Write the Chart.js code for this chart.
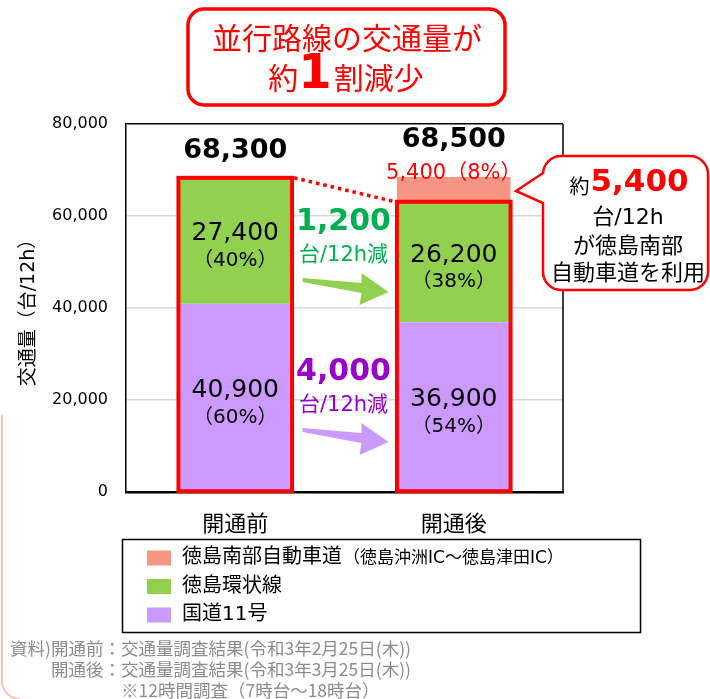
<!DOCTYPE html>
<html lang="ja">
<head>
    <meta charset="UTF-8">
    <title>並行路線の交通量</title>
    <script src="https://cdn.jsdelivr.net/npm/chart.js"></script>
    <style>
        html, body { margin: 0; padding: 0; background: #fff; }
        #grafico { display: block; }
    </style>
</head>
<body>
    <canvas id="grafico" width="710" height="699"></canvas>

    <script>
        // dados
        const categorias = ['開通前', '開通後'];
        const kokudo11 = [40900, 36900];
        const kanjou = [27400, 26200];
        const nanbu = [null, 5400];
        const pctKokudo = ['60%', '54%'];
        const pctKanjou = ['40%', '38%'];
        const pctNanbu = [null, '8%'];
        const ticksY = [0, 20000, 40000, 60000, 80000];
        const nomes = ['国道11号', '徳島環状線', '徳島南部自動車道'];
        const notasLegenda = ['', '', '（徳島沖洲IC～徳島津田IC）'];
        const cores = ['#cc99ff', '#92d050', '#f79484'];

        const JP = '"Noto Sans CJK JP", "Noto Sans", sans-serif';
        const NUM = '"DejaVu Sans", Verdana, sans-serif';
        const MIX = '"DejaVu Sans", "Noto Sans CJK JP", sans-serif';
        const VERMELHO = '#ff0000';

        const fmt = v => v.toLocaleString('en-US');

        function retArredondado(ctx, x, y, w, h, r) {
            ctx.beginPath();
            ctx.moveTo(x + r, y);
            ctx.arcTo(x + w, y, x + w, y + h, r);
            ctx.arcTo(x + w, y + h, x, y + h, r);
            ctx.arcTo(x, y + h, x, y, r);
            ctx.arcTo(x, y, x + w, y, r);
            ctx.closePath();
        }

        function seta(ctx, cx, y0, cor) {
            const pts = [[-43, 5], [16, 10], [16, 0], [43, 19], [14, 32], [16, 20], [-43, 9]];
            ctx.beginPath();
            pts.forEach((p, i) => i ? ctx.lineTo(cx + p[0], y0 + p[1]) : ctx.moveTo(cx + p[0], y0 + p[1]));
            ctx.closePath();
            ctx.fillStyle = cor;
            ctx.fill();
        }

        // escreve partes com fontes diferentes, centradas em cx
        function textoMisto(ctx, partes, cx, y) {
            let largura = 0;
            partes.forEach(p => { ctx.font = p.font; largura += ctx.measureText(p.t).width + (p.gap || 0); });
            let x = cx - largura / 2;
            ctx.textAlign = 'left';
            partes.forEach(p => {
                ctx.font = p.font;
                ctx.fillStyle = p.cor;
                ctx.fillText(p.t, x, y + (p.dy || 0));
                x += ctx.measureText(p.t).width + (p.gap || 0);
            });
        }

        const desenhos = {
            id: 'desenhos',
            beforeDatasetsDraw(chart) {
                const { ctx, chartArea: a } = chart;
                ctx.save();
                ctx.strokeStyle = '#000';
                ctx.lineWidth = 1.5;
                ctx.beginPath();
                ctx.moveTo(a.right, a.top);
                ctx.lineTo(a.right, a.bottom);
                ctx.stroke();
                ctx.restore();
            },
            afterDatasetsDraw(chart) {
                const { ctx } = chart;
                const m0 = chart.getDatasetMeta(0), m1 = chart.getDatasetMeta(1), m2 = chart.getDatasetMeta(2);
                ctx.save();
                const cantos = [];
                categorias.forEach((c, i) => {
                    const b0 = m0.data[i], b1 = m1.data[i];
                    const l = b0.x - b0.width / 2, r = b0.x + b0.width / 2;
                    ctx.strokeStyle = VERMELHO;
                    ctx.lineWidth = 4;
                    ctx.strokeRect(l, b1.y, r - l, b0.base - b1.y);
                    cantos.push({ l, r, top: b1.y });

                    // rótulos dentro das barras
                    ctx.fillStyle = '#000';
                    ctx.textAlign = 'center';
                    ctx.textBaseline = 'middle';
                    [[b0, kokudo11[i], pctKokudo[i]], [b1, kanjou[i], pctKanjou[i]]].forEach(([b, v, p]) => {
                        const cy = (b.y + b.base) / 2;
                        ctx.font = '25px ' + NUM;
                        ctx.fillText(fmt(v), b.x, cy - 7);
                        ctx.font = '20px ' + MIX;
                        ctx.fillText('（' + p + '）', b.x, cy + 20);
                    });

                    // total
                    let topo = b1.y;
                    let total = kokudo11[i] + kanjou[i];
                    if (nanbu[i]) {
                        const b2 = m2.data[i];
                        topo = b2.y;
                        total += nanbu[i];
                        ctx.fillStyle = VERMELHO;
                        ctx.font = '21px ' + MIX;
                        ctx.fillText(fmt(nanbu[i]) + '（' + pctNanbu[i] + '）', b2.x, b2.y - 3);
                    }
                    ctx.fillStyle = '#000';
                    ctx.font = 'bold 27px ' + NUM;
                    ctx.fillText(fmt(total), b0.x, topo - (nanbu[i] ? 37 : 27));
                });

                // linha pontilhada
                ctx.strokeStyle = VERMELHO;
                ctx.lineWidth = 3.5;
                ctx.setLineDash([3.5, 4]);
                ctx.beginPath();
                ctx.moveTo(cantos[0].r + 2, cantos[0].top);
                ctx.lineTo(cantos[1].l - 2, cantos[1].top);
                ctx.stroke();
                ctx.setLineDash([]);

                // reduções
                const cx = (cantos[0].r + cantos[1].l) / 2;
                const a = chart.chartArea;
                const reducoes = [
                    [kanjou[0] - kanjou[1], '#00b050', cores[1], a.top + 98],
                    [kokudo11[0] - kokudo11[1], '#9900cc', cores[0], a.top + 248]
                ];
                reducoes.forEach(([v, corTxt, corSeta, y]) => {
                    ctx.textAlign = 'center';
                    ctx.fillStyle = corTxt;
                    ctx.font = 'bold 30px ' + NUM;
                    ctx.fillText(fmt(v), cx - 1, y);
                    ctx.font = '21px ' + MIX;
                    ctx.fillText('台/12h減', cx - 1, y + 34);
                    seta(ctx, cx + 1, y + 51, corSeta);
                });
                ctx.restore();
            },
            afterDraw(chart) {
                const { ctx } = chart;
                ctx.save();

                // caixa do título
                retArredondado(ctx, 188, 9, 317, 96, 16);
                ctx.fillStyle = '#fff';
                ctx.fill();
                ctx.strokeStyle = VERMELHO;
                ctx.lineWidth = 3.5;
                ctx.stroke();
                ctx.fillStyle = VERMELHO;
                ctx.textAlign = 'center';
                ctx.textBaseline = 'middle';
                ctx.font = '30px ' + JP;
                ctx.fillText('並行路線の交通量が', 347, 38);
                textoMisto(ctx, [
                    { t: '約', font: '30px ' + JP, cor: VERMELHO, dy: 2 },
                    { t: '1', font: 'bold 48px ' + NUM, cor: VERMELHO, gap: 2 },
                    { t: '割減少', font: '30px ' + JP, cor: VERMELHO, dy: 2 }
                ], 346, 76);

                // balão
                ctx.beginPath();
                const L = 543, T = 156, R = 708, B = 290, r = 18;
                ctx.moveTo(L + r, T);
                ctx.arcTo(R, T, R, B, r);
                ctx.arcTo(R, B, L, B, r);
                ctx.arcTo(L, B, L, T, r);
                ctx.lineTo(L, 203);
                ctx.lineTo(516, 191);
                ctx.lineTo(L, 173);
                ctx.arcTo(L, T, R, T, r);
                ctx.closePath();
                ctx.fillStyle = '#fff';
                ctx.fill();
                ctx.strokeStyle = VERMELHO;
                ctx.lineWidth = 2.5;
                ctx.stroke();
                textoMisto(ctx, [
                    { t: '約', font: '20px ' + JP, cor: '#000', dy: 3, gap: 1 },
                    { t: fmt(nanbu[1]), font: 'bold 31px ' + NUM, cor: VERMELHO }
                ], 629, 183);
                ctx.textAlign = 'center';
                ctx.fillStyle = '#000';
                ctx.font = '22px ' + MIX;
                ctx.fillText('台/12h', 628, 218);
                ctx.font = '22px ' + JP;
                ctx.fillText('が徳島南部', 628, 245);
                ctx.fillText('自動車道を利用', 628, 272);

                // legenda
                ctx.strokeStyle = '#000';
                ctx.lineWidth = 1.5;
                ctx.strokeRect(122.5, 539.5, 518, 93);
                ctx.textAlign = 'left';
                [2, 1, 0].forEach((d, k) => {
                    const y = 558 + k * 28.5;
                    ctx.fillStyle = cores[d];
                    ctx.fillRect(147, y - 7.5, 24, 15);
                    ctx.fillStyle = '#000';
                    ctx.font = '20px ' + MIX;
                    ctx.fillText(nomes[d], 182, y);
                    if (notasLegenda[d]) {
                        const w = ctx.measureText(nomes[d]).width;
                        ctx.font = '17px ' + MIX;
                        ctx.fillText(notasLegenda[d], 182 + w + 1, y + 1);
                    }
                });

                // notas
                ctx.fillStyle = '#8c8c8c';
                ctx.font = '17.5px ' + JP;
                const notas = [
                    ['資料)開通前：', '交通量調査結果(令和3年2月25日(木))', 648],
                    ['開通後：', '交通量調査結果(令和3年3月25日(木))', 669],
                    ['', '※12時間調査（7時台～18時台）', 690]
                ];
                notas.forEach(([pre, txt, y]) => {
                    ctx.textAlign = 'right';
                    ctx.fillText(pre, 121, y);
                    ctx.textAlign = 'left';
                    ctx.fillText(txt, 121, y);
                });

                // borda rosa à esquerda
                ctx.strokeStyle = '#f9c4bc';
                ctx.lineWidth = 2;
                ctx.beginPath();
                ctx.moveTo(2, 415);
                ctx.lineTo(2, 680);
                ctx.arcTo(2, 699, 20, 699, 18);
                ctx.stroke();
                ctx.restore();
            }
        };

        new Chart(document.getElementById('grafico'), {
            type: 'bar',
            data: {
                labels: categorias,
                datasets: [
                    { label: nomes[0], data: kokudo11, backgroundColor: cores[0] },
                    { label: nomes[1], data: kanjou, backgroundColor: cores[1] },
                    { label: nomes[2], data: nanbu, backgroundColor: cores[2] }
                ]
            },
            options: {
                responsive: false,
                animation: false,
                layout: { padding: { left: 0, right: 147, top: 124, bottom: 157 } },
                datasets: { bar: { categoryPercentage: 1, barPercentage: 0.52 } },
                plugins: { legend: { display: false }, tooltip: { enabled: false } },
                scales: {
                    x: {
                        stacked: true,
                        grid: { display: false, drawTicks: false },
                        border: { color: '#000', width: 2.5 },
                        ticks: { padding: 17, color: '#000', font: { family: JP, size: 22 } },
                        afterFit: s => { s.height = 50; }
                    },
                    y: {
                        stacked: true,
                        min: 0,
                        max: 80000,
                        afterBuildTicks: s => { s.ticks = ticksY.map(v => ({ value: v })); },
                        afterFit: s => { s.width = 126; },
                        grid: {
                            drawTicks: false,
                            color: c => c.tick.value === 80000 ? '#000' : '#d9d9d9',
                            lineWidth: 1.5
                        },
                        border: { color: '#000', width: 1.5 },
                        ticks: {
                            padding: 18,
                            color: '#000',
                            font: { family: NUM, size: 16 },
                            callback: v => fmt(v)
                        },
                        title: {
                            display: true,
                            text: '交通量（台/12h）',
                            color: '#000',
                            font: { family: MIX, size: 19 },
                            padding: { top: 18, bottom: 0 }
                        }
                    }
                }
            },
            plugins: [desenhos]
        });
    </script>
</body>
</html>
